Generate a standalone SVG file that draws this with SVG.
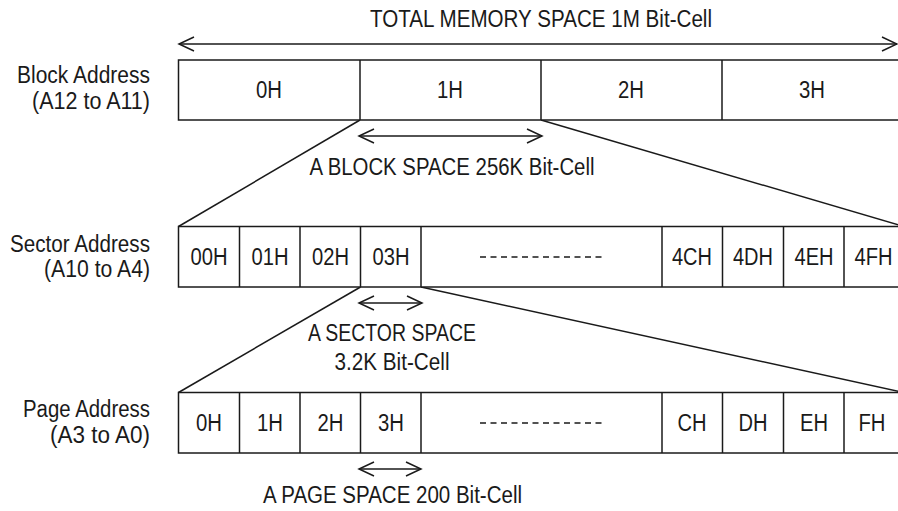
<svg xmlns="http://www.w3.org/2000/svg" width="898" height="511" viewBox="0 0 898 511">
<style>
  text { font-family: "Liberation Sans", Arial, sans-serif; font-size: 23px; fill: #1a1a1a; }
  .m { text-anchor: middle; }
  .e { text-anchor: end; }
  .box { fill: #fff; stroke: #1a1a1a; stroke-width: 1.5; }
  .ln { fill: none; stroke: #1a1a1a; stroke-width: 1.5; }
  .dash { fill: none; stroke: #1a1a1a; stroke-width: 1.5; stroke-dasharray: 6 4.5; }
</style>
<rect width="898" height="511" fill="#fff"/>

<g id="connectors">
  <line class="ln" x1="360" y1="120" x2="178.5" y2="226.5"/>
  <line class="ln" x1="541" y1="120" x2="904" y2="226.5"/>
  <line class="ln" x1="360.5" y1="287" x2="178.5" y2="392.5"/>
  <line class="ln" x1="421" y1="287" x2="904" y2="392.5"/>
</g>

<g id="total-space">
  <line class="ln" x1="179" y1="44" x2="897" y2="44"/>
  <polyline class="ln" points="194,37 179,44 194,51"/>
  <polyline class="ln" points="882,37 897,44 882,51"/>
  <text class="m" x="541" y="27" textLength="342" lengthAdjust="spacingAndGlyphs">TOTAL MEMORY SPACE 1M Bit-Cell</text>
</g>

<g id="block-row">
  <text class="e" x="150" y="83" textLength="133" lengthAdjust="spacingAndGlyphs">Block Address</text>
  <text class="e" x="150" y="109" textLength="118" lengthAdjust="spacingAndGlyphs">(A12 to A11)</text>
  <rect class="box" x="178.5" y="60" width="726" height="60"/>
  <line class="ln" x1="360" y1="60" x2="360" y2="120"/>
  <line class="ln" x1="541" y1="60" x2="541" y2="120"/>
  <line class="ln" x1="722" y1="60" x2="722" y2="120"/>
  <text class="m" x="269" y="98" textLength="26" lengthAdjust="spacingAndGlyphs">0H</text>
  <text class="m" x="450" y="98" textLength="26" lengthAdjust="spacingAndGlyphs">1H</text>
  <text class="m" x="631" y="98" textLength="26" lengthAdjust="spacingAndGlyphs">2H</text>
  <text class="m" x="812" y="98" textLength="26" lengthAdjust="spacingAndGlyphs">3H</text>
</g>

<g id="block-space">
  <line class="ln" x1="359" y1="136" x2="542" y2="136"/>
  <polyline class="ln" points="374,129 359,136 374,143"/>
  <polyline class="ln" points="527,129 542,136 527,143"/>
  <text class="m" x="452" y="175" textLength="285" lengthAdjust="spacingAndGlyphs">A BLOCK SPACE 256K Bit-Cell</text>
</g>

<g id="sector-row">
  <text class="e" x="150" y="252" textLength="140" lengthAdjust="spacingAndGlyphs">Sector Address</text>
  <text class="e" x="150" y="277" textLength="106" lengthAdjust="spacingAndGlyphs">(A10 to A4)</text>
  <rect class="box" x="178.5" y="226.5" width="726" height="60.5"/>
  <line class="ln" x1="239.5" y1="226.5" x2="239.5" y2="287"/>
  <line class="ln" x1="300" y1="226.5" x2="300" y2="287"/>
  <line class="ln" x1="360.5" y1="226.5" x2="360.5" y2="287"/>
  <line class="ln" x1="421" y1="226.5" x2="421" y2="287"/>
  <line class="ln" x1="662" y1="226.5" x2="662" y2="287"/>
  <line class="ln" x1="722.5" y1="226.5" x2="722.5" y2="287"/>
  <line class="ln" x1="783.5" y1="226.5" x2="783.5" y2="287"/>
  <line class="ln" x1="844" y1="226.5" x2="844" y2="287"/>
  <text class="m" x="209" y="265" textLength="37" lengthAdjust="spacingAndGlyphs">00H</text>
  <text class="m" x="270" y="265" textLength="37" lengthAdjust="spacingAndGlyphs">01H</text>
  <text class="m" x="330.5" y="265" textLength="37" lengthAdjust="spacingAndGlyphs">02H</text>
  <text class="m" x="391" y="265" textLength="37" lengthAdjust="spacingAndGlyphs">03H</text>
  <line class="dash" x1="480" y1="257" x2="602" y2="257"/>
  <text class="m" x="692" y="265" textLength="40" lengthAdjust="spacingAndGlyphs">4CH</text>
  <text class="m" x="753" y="265" textLength="40" lengthAdjust="spacingAndGlyphs">4DH</text>
  <text class="m" x="814" y="265" textLength="39" lengthAdjust="spacingAndGlyphs">4EH</text>
  <text class="m" x="873.5" y="265" textLength="38" lengthAdjust="spacingAndGlyphs">4FH</text>
</g>

<g id="sector-space">
  <line class="ln" x1="359" y1="303" x2="422" y2="303"/>
  <polyline class="ln" points="374,296 359,303 374,310"/>
  <polyline class="ln" points="407,296 422,303 407,310"/>
  <text class="m" x="392" y="341" textLength="168" lengthAdjust="spacingAndGlyphs">A SECTOR SPACE</text>
  <text class="m" x="392" y="370" textLength="115" lengthAdjust="spacingAndGlyphs">3.2K Bit-Cell</text>
</g>

<g id="page-row">
  <text class="e" x="150" y="417" textLength="127" lengthAdjust="spacingAndGlyphs">Page Address</text>
  <text class="e" x="150" y="443" textLength="100" lengthAdjust="spacingAndGlyphs">(A3 to A0)</text>
  <rect class="box" x="178.5" y="392.5" width="726" height="60.5"/>
  <line class="ln" x1="239.5" y1="392.5" x2="239.5" y2="453"/>
  <line class="ln" x1="300" y1="392.5" x2="300" y2="453"/>
  <line class="ln" x1="360.5" y1="392.5" x2="360.5" y2="453"/>
  <line class="ln" x1="421" y1="392.5" x2="421" y2="453"/>
  <line class="ln" x1="662" y1="392.5" x2="662" y2="453"/>
  <line class="ln" x1="722.5" y1="392.5" x2="722.5" y2="453"/>
  <line class="ln" x1="783.5" y1="392.5" x2="783.5" y2="453"/>
  <line class="ln" x1="844" y1="392.5" x2="844" y2="453"/>
  <text class="m" x="209" y="431" textLength="26" lengthAdjust="spacingAndGlyphs">0H</text>
  <text class="m" x="270" y="431" textLength="26" lengthAdjust="spacingAndGlyphs">1H</text>
  <text class="m" x="330.5" y="431" textLength="26" lengthAdjust="spacingAndGlyphs">2H</text>
  <text class="m" x="391" y="431" textLength="26" lengthAdjust="spacingAndGlyphs">3H</text>
  <line class="dash" x1="480" y1="423" x2="602" y2="423"/>
  <text class="m" x="692" y="431" textLength="29" lengthAdjust="spacingAndGlyphs">CH</text>
  <text class="m" x="753" y="431" textLength="29" lengthAdjust="spacingAndGlyphs">DH</text>
  <text class="m" x="814" y="431" textLength="28" lengthAdjust="spacingAndGlyphs">EH</text>
  <text class="m" x="872" y="431" textLength="27" lengthAdjust="spacingAndGlyphs">FH</text>
</g>

<g id="page-space">
  <line class="ln" x1="359" y1="469" x2="421" y2="469"/>
  <polyline class="ln" points="374,462 359,469 374,476"/>
  <polyline class="ln" points="406,462 421,469 406,476"/>
  <text class="m" x="392.5" y="503" textLength="259" lengthAdjust="spacingAndGlyphs">A PAGE SPACE 200 Bit-Cell</text>
</g>
</svg>
